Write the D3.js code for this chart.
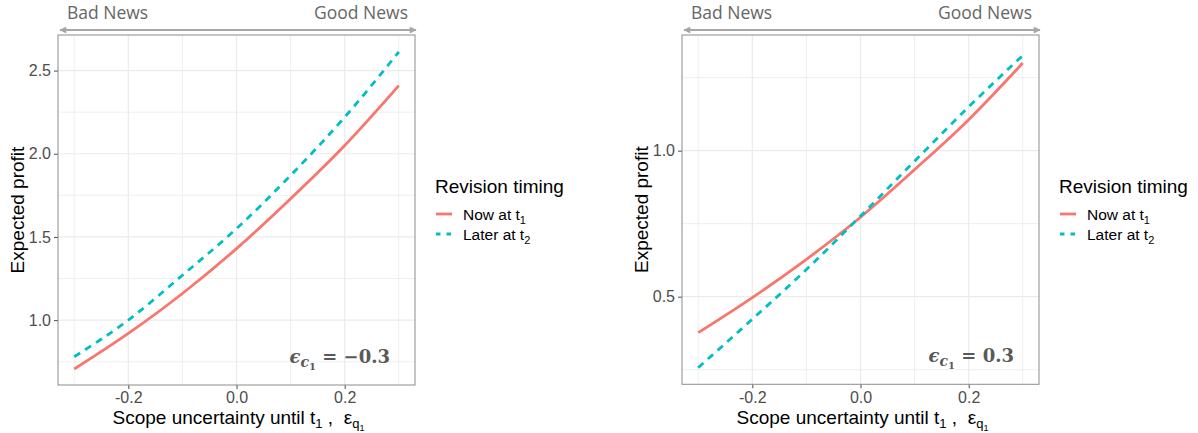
<!DOCTYPE html>
<html>
<head>
<meta charset="utf-8">
<script src="https://cdn.jsdelivr.net/npm/d3@7"></script>
<style>
  body { margin: 0; background: #fff; }
  svg { display: block; }
</style>
</head>
<body>
<svg id="chart" width="1198" height="433"></svg>
<script>
// values
var xVals = [-0.3, -0.2, -0.1, 0.0, 0.1, 0.2, 0.3];
var leftNow = [0.706, 0.92, 1.16, 1.43, 1.73, 2.05, 2.41];
var leftLater = [0.78, 1.0, 1.27, 1.55, 1.87, 2.22, 2.612];
var rightNow = [0.377, 0.497, 0.628, 0.772, 0.935, 1.106, 1.30];
var rightLater = [0.257, 0.423, 0.593, 0.776, 0.964, 1.15, 1.326];

var xTicks = [-0.2, 0.0, 0.2];
var xMinor = [-0.3, -0.1, 0.1, 0.3];
var leftTicks = [1.0, 1.5, 2.0, 2.5];
var leftMinor = [0.75, 1.25, 1.75, 2.25];
var rightTicks = [0.5, 1.0];
var rightMinor = [0.25, 0.75, 1.25];

var seriesNames = ["Now at t", "Later at t"];
var seriesSubs = ["1", "2"];
var colors = ["#F8766D", "#00BFC4"];

var panels = [
  { left: 58, right: 415, top: 35, bottom: 385, yDomain: [0.61, 2.714],
    now: leftNow, later: leftLater, ticks: leftTicks, minor: leftMinor,
    note: "\u2212" + "0.3", legendX: 436 },
  { left: 682, right: 1039, top: 35, bottom: 384.3, yDomain: [0.2, 1.396],
    now: rightNow, later: rightLater, ticks: rightTicks, minor: rightMinor,
    note: "0.3", legendX: 1060 }
];

var svg = d3.select("#chart");

var defs = svg.append("defs");
defs.append("marker").attr("id", "ahead")
  .attr("viewBox", "0 0 10 10").attr("refX", 9).attr("refY", 5)
  .attr("markerWidth", 9).attr("markerHeight", 7)
  .attr("markerUnits", "userSpaceOnUse")
  .attr("orient", "auto-start-reverse")
  .append("path").attr("d", "M0,0 L10,5 L0,10 Z").attr("fill", "#a6a6a6");

var fmt = function(d) { return d.toFixed(1); };

panels.forEach(function(p) {
  var x = d3.scaleLinear()
    .domain([-0.33, 0.33])
    .range([p.left, p.right]);
  var y = d3.scaleLinear().domain(p.yDomain).range([p.bottom, p.top]);

  var g = svg.append("g");

  // gridlines
  g.selectAll(".vminor").data(xMinor).enter().append("line")
    .attr("x1", function(d) { return x(d); }).attr("x2", function(d) { return x(d); })
    .attr("y1", p.top).attr("y2", p.bottom)
    .attr("stroke", "#ebebeb").attr("stroke-width", 0.8);
  g.selectAll(".hminor").data(p.minor).enter().append("line")
    .attr("y1", function(d) { return y(d); }).attr("y2", function(d) { return y(d); })
    .attr("x1", p.left).attr("x2", p.right)
    .attr("stroke", "#ebebeb").attr("stroke-width", 0.8);
  g.selectAll(".vmajor").data(xTicks).enter().append("line")
    .attr("x1", function(d) { return x(d); }).attr("x2", function(d) { return x(d); })
    .attr("y1", p.top).attr("y2", p.bottom)
    .attr("stroke", "#ebebeb").attr("stroke-width", 1.2);
  g.selectAll(".hmajor").data(p.ticks).enter().append("line")
    .attr("y1", function(d) { return y(d); }).attr("y2", function(d) { return y(d); })
    .attr("x1", p.left).attr("x2", p.right)
    .attr("stroke", "#ebebeb").attr("stroke-width", 1.2);

  // axes
  var xAxis = g.append("g")
    .attr("transform", "translate(0," + p.bottom + ")")
    .call(d3.axisBottom(x).tickValues(xTicks).tickFormat(fmt).tickSize(4).tickPadding(3));
  var yAxis = g.append("g")
    .attr("transform", "translate(" + p.left + ",0)")
    .call(d3.axisLeft(y).tickValues(p.ticks).tickFormat(fmt).tickSize(4).tickPadding(3));
  [xAxis, yAxis].forEach(function(a) {
    a.select(".domain").remove();
    a.selectAll(".tick line").attr("stroke", "#4d4d4d");
    a.selectAll(".tick text").attr("fill", "#4d4d4d")
      .style("font-family", "Liberation Sans, Arial, sans-serif")
      .style("font-size", "16px");
  });

  // lines
  var line = d3.line()
    .x(function(d, i) { return x(xVals[i]); })
    .y(function(d) { return y(d); })
    .curve(d3.curveMonotoneX);
  g.append("path").datum(p.now)
    .attr("fill", "none").attr("stroke", colors[0])
    .attr("stroke-width", 2.8).attr("d", line);
  g.append("path").datum(p.later)
    .attr("fill", "none").attr("stroke", colors[1])
    .attr("stroke-width", 2.8).attr("stroke-dasharray", "7,6").attr("d", line);

  // panel border
  g.append("rect")
    .attr("x", p.left).attr("y", p.top)
    .attr("width", p.right - p.left).attr("height", p.bottom - p.top)
    .attr("fill", "none").attr("stroke", "#8c8c8c").attr("stroke-width", 1);

  // annotation
  var note = g.append("text")
    .attr("x", p.right - 25).attr("y", p.bottom - 22)
    .attr("text-anchor", "end").attr("fill", "#595959")
    .style("font-family", "DejaVu Serif, serif").style("font-weight", "bold")
    .style("font-size", "18px");
  note.append("tspan").style("font-style", "italic").text("\u03F5");
  note.append("tspan").style("font-style", "italic").style("font-size", "14px")
    .attr("dy", 4).text("c");
  note.append("tspan").style("font-size", "10px").attr("dy", 3).text("1");
  note.append("tspan").attr("dy", -7).text(" = " + p.note);

  // bad / good news arrow
  g.append("line")
    .attr("x1", p.left + 2).attr("x2", p.right + 1)
    .attr("y1", 30).attr("y2", 30)
    .attr("stroke", "#a6a6a6").attr("stroke-width", 2)
    .attr("marker-start", "url(#ahead)").attr("marker-end", "url(#ahead)");
  g.append("text").attr("x", p.left + 9).attr("y", 19)
    .attr("fill", "#666").style("font-family", "Open Sans, sans-serif")
    .style("font-size", "17.5px").text("Bad News");
  g.append("text").attr("x", p.right - 7).attr("y", 19)
    .attr("text-anchor", "end")
    .attr("fill", "#666").style("font-family", "Open Sans, sans-serif")
    .style("font-size", "17.5px").text("Good News");

  // axis titles
  var xt = g.append("text")
    .attr("x", (p.left + p.right) / 2 + 2).attr("y", 424)
    .attr("text-anchor", "middle").attr("fill", "#000")
    .style("font-family", "Liberation Sans, Arial, sans-serif")
    .style("font-size", "19px");
  xt.append("tspan").text("Scope uncertainty until t");
  xt.append("tspan").style("font-size", "13px").attr("dy", 4).text("1");
  xt.append("tspan").attr("dy", -4).text("\u00A0,\u00A0\u00A0\u03B5");
  xt.append("tspan").style("font-size", "13px").attr("dy", 4).text("q");
  xt.append("tspan").style("font-size", "9px").attr("dy", 3).text("1");

  g.append("text")
    .attr("transform", "translate(" + (p.left - 34) + "," + ((p.top + p.bottom) / 2) + ") rotate(-90)")
    .attr("text-anchor", "middle").attr("fill", "#000")
    .style("font-family", "Liberation Sans, Arial, sans-serif")
    .style("font-size", "19px").text("Expected profit");

  // legend
  var lg = g.append("g").style("font-family", "Liberation Sans, Arial, sans-serif");
  lg.append("text").attr("x", p.legendX - 1).attr("y", 193)
    .style("font-size", "19px").attr("fill", "#000").text("Revision timing");
  seriesNames.forEach(function(name, i) {
    var ky = 214 + i * 20;
    lg.append("line")
      .attr("x1", p.legendX).attr("x2", p.legendX + 16)
      .attr("y1", ky).attr("y2", ky)
      .attr("stroke", colors[i]).attr("stroke-width", 2.8)
      .attr("stroke-dasharray", i === 1 ? "4.5,6" : null);
    var t = lg.append("text").attr("x", p.legendX + 27).attr("y", ky + 6)
      .style("font-size", "15.5px").attr("fill", "#000");
    t.append("tspan").text(name);
    t.append("tspan").style("font-size", "11px").attr("dy", 4).text(seriesSubs[i]);
  });
});
</script>
</body>
</html>
